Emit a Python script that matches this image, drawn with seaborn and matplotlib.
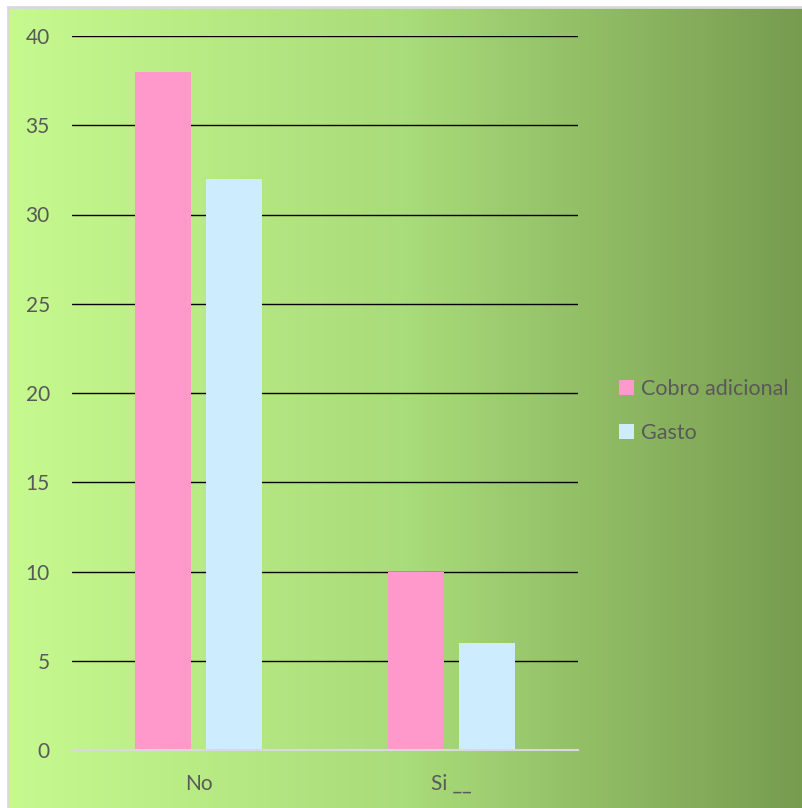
import numpy as np
import pandas as pd
import matplotlib
matplotlib.use("Agg")
import matplotlib.pyplot as plt
import seaborn as sns
from matplotlib.colors import LinearSegmentedColormap

categories = ["No", "Si __"]
series_names = ["Cobro adicional", "Gasto"]
cobro = [38, 10]
gasto = [32, 6]
yticks = [0, 5, 10, 15, 20, 25, 30, 35, 40]

df = pd.DataFrame({
    "cat": categories * 2,
    "serie": [series_names[0]] * 2 + [series_names[1]] * 2,
    "val": cobro + gasto,
})

sns.set_theme(style="white")
plt.rcParams["font.family"] = ["Lato", "DejaVu Sans"]

W, H = 803, 808
fig = plt.figure(figsize=(W / 100, H / 100), dpi=100)
fig.patch.set_facecolor("white")

# gradient background
bg = fig.add_axes([8 / W, 0, (W - 8) / W, (H - 7) / H])
cmap = LinearSegmentedColormap.from_list("g", ["#c6f98e", "#a9dc7a", "#779b4f"])
grad = np.linspace(0, 1, 256).reshape(1, -1)
bg.imshow(grad, aspect="auto", cmap=cmap, extent=[0, 1, 0, 1])
bg.set_xlim(0, 1)
bg.set_ylim(0, 1)
bg.set_xticks([])
bg.set_yticks([])
for s in ["right", "bottom"]:
    bg.spines[s].set_visible(False)
for s in ["left", "top"]:
    bg.spines[s].set_color("#d9d9d9")
    bg.spines[s].set_linewidth(2)

ax = fig.add_axes([72 / W, 58 / H, 506 / W, 714 / H])
ax.patch.set_alpha(0)
sns.barplot(data=df, x="cat", y="val", hue="serie", order=categories,
            hue_order=series_names, palette=["#ff99cc", "#cdedff"],
            width=0.565, gap=0.217, saturation=1, ax=ax, legend=True,
            linewidth=0)
ax.set_ylim(0, 40)
ax.set_xlim(-0.5, 1.5)
ax.set_yticks(yticks)
ax.set_yticklabels([str(t) for t in yticks])
ax.yaxis.grid(True, color="black", linewidth=1)
ax.set_axisbelow(True)
for s in ["left", "right", "top"]:
    ax.spines[s].set_visible(False)
ax.spines["bottom"].set_color("#d9d9d9")
ax.spines["bottom"].set_linewidth(1.5)
ax.tick_params(axis="y", length=0, pad=16, labelsize=15, labelcolor="#595959")
ax.tick_params(axis="x", length=0, pad=17, labelsize=15, labelcolor="#595959")
ax.set_xlabel("")
ax.set_ylabel("")

leg = ax.legend(loc="center left", bbox_to_anchor=(619 / W, 397 / H),
                bbox_transform=fig.transFigure, frameon=False,
                borderaxespad=0, borderpad=0,
                fontsize=15.5, labelcolor="#595959", handlelength=0.7,
                handleheight=0.7, handletextpad=0.3, labelspacing=1.15)

fig.savefig("out.png", dpi=100)
